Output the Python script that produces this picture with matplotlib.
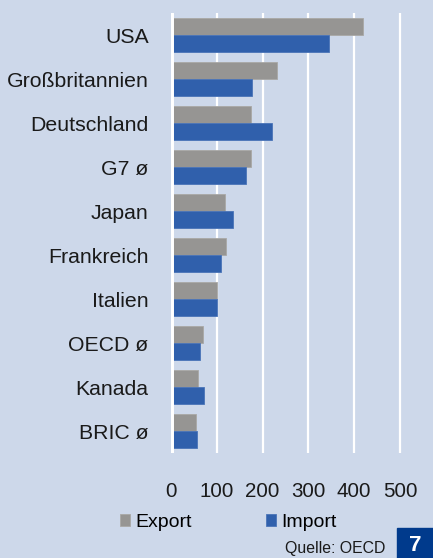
import matplotlib.pyplot as plt
import numpy as np

plt.rcParams['font.family'] = ['Liberation Sans', 'DejaVu Sans']

laender = ["USA", "Großbritannien", "Deutschland", "G7 ø", "Japan",
           "Frankreich", "Italien", "OECD ø", "Kanada", "BRIC ø"]
export = [419, 231, 175, 175, 118, 120, 100, 71, 60, 56]
importe = [344, 176, 220, 165, 136, 109, 101, 64, 73, 57]
ticks = [0, 100, 200, 300, 400, 500]

bg = "#CDD8EA"
grau = "#969593"
blau = "#3060AC"

fig = plt.figure(figsize=(4.33, 5.58), dpi=100, facecolor=bg)
ax = fig.add_axes([0.3945, 0.188, 0.54, 0.7887])
ax.set_facecolor(bg)

y = np.arange(len(laender))
h = 0.386
ax.barh(y - h / 2, export, height=h, color=grau, edgecolor="#a9a8a6", linewidth=0.6, label="Export", zorder=3)
ax.barh(y + h / 2, importe, height=h, color=blau, edgecolor="#4a74b8", linewidth=0.6, label="Import", zorder=3)

ax.set_xlim(0, 510)
ax.set_ylim(len(laender) - 0.5, -0.5)
ax.set_xticks(ticks)
ax.set_yticks(y)
ax.set_yticklabels(laender, fontsize=15.3, color="#1a1a1a")
ax.tick_params(axis="y", length=0, pad=16)
ax.tick_params(axis="x", length=0, pad=21, labelsize=14.8, labelcolor="#1a1a1a")

for t in ticks[1:]:
    ax.axvline(t, color="white", linewidth=1.6, zorder=1)
ax.axvline(0, color="white", linewidth=4.3, zorder=4)

for s in ax.spines.values():
    s.set_visible(False)

fig.legend(loc="center", bbox_to_anchor=(0.527, 0.064), ncol=2, frameon=False,
           fontsize=14, handlelength=0.55, handleheight=0.55, handletextpad=0.25,
           columnspacing=3.8, borderaxespad=0)

fig.text(0.889, 0.004, "Quelle: OECD", fontsize=11.4, ha="right", va="bottom", color="#1a1a1a")

box = plt.Rectangle((397 / 433, 0), 36 / 433, 30 / 558, transform=fig.transFigure,
                    color="#003A8C", zorder=5)
fig.patches.append(box)
fig.text(415 / 433, 0.003, "7", fontsize=16, fontweight="bold", color="white",
         ha="center", va="bottom", zorder=6)

fig.savefig("out.png", dpi=100, facecolor=bg)
